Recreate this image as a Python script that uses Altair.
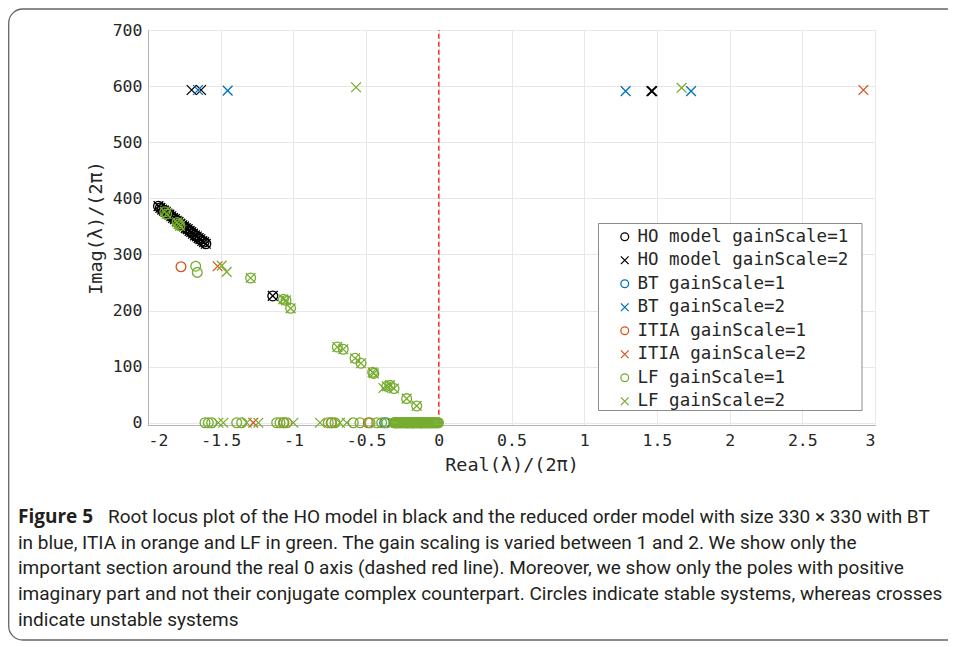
import altair as alt
import pandas as pd

# ---------------- data ----------------
SERIES = ["HO model gainScale=1", "HO model gainScale=2",
          "BT gainScale=1", "BT gainScale=2",
          "ITIA gainScale=1", "ITIA gainScale=2",
          "LF gainScale=1", "LF gainScale=2"]
COLORS = ["#000000", "#000000", "#0072BD", "#0072BD",
          "#D95319", "#D95319", "#77AC30", "#77AC30"]
CROSS = "M-1,-1L1,1M-1,1L1,-1"
SHAPES = ["circle", CROSS, "circle", CROSS, "circle", CROSS, "circle", CROSS]

XTICKS = [-2, -1.5, -1, -0.5, 0, 0.5, 1, 1.5, 2, 2.5, 3]
YTICKS = [0, 100, 200, 300, 400, 500, 600, 700]

HO1 = [(-1.928, 386), (-1.915, 383), (-1.902, 380), (-1.890, 378), (-1.878, 376),
       (-1.866, 373), (-1.853, 371), (-1.840, 368), (-1.828, 365), (-1.815, 363),
       (-1.802, 360), (-1.790, 358), (-1.777, 355), (-1.764, 352), (-1.752, 350),
       (-1.740, 347), (-1.727, 345), (-1.714, 342), (-1.702, 340), (-1.690, 337),
       (-1.677, 334), (-1.664, 332), (-1.652, 329), (-1.640, 327), (-1.627, 324),
       (-1.614, 322), (-1.602, 319), (-1.142, 226)]
HO2 = [(-1.928, 386), (-1.915, 383), (-1.902, 380), (-1.890, 378), (-1.878, 376),
       (-1.866, 373), (-1.853, 371), (-1.840, 368), (-1.828, 365), (-1.815, 363),
       (-1.802, 360), (-1.790, 358), (-1.777, 355), (-1.764, 352), (-1.752, 350),
       (-1.740, 347), (-1.727, 345), (-1.714, 342), (-1.702, 340), (-1.690, 337),
       (-1.677, 334), (-1.664, 332), (-1.652, 329), (-1.640, 327), (-1.627, 324),
       (-1.614, 322), (-1.602, 319), (-1.142, 226),
       (-1.700, 593), (-1.635, 593), (1.462, 591), (1.468, 591)]
BT1 = [(-0.372, 0), (-0.215, 0), (-0.120, 0)]
BT2 = [(-1.656, 593), (-1.452, 592), (1.285, 591), (1.735, 591)]
ITIA1 = [(-1.773, 278), (-1.065, 0), (-0.740, 0), (-0.485, 0), (-0.300, 0), (-0.180, 0)]
ITIA2 = [(-1.521, 279), (-1.276, 0), (2.920, 593)]
LF1 = [(-1.884, 376), (-1.872, 372), (-1.800, 357), (-1.790, 354), (-1.780, 351),
       (-1.672, 279), (-1.661, 268), (-1.294, 258), (-1.069, 220), (-1.051, 218),
       (-1.019, 204), (-0.698, 135), (-0.657, 131), (-0.576, 115), (-0.535, 106),
       (-0.455, 90), (-0.447, 88), (-0.358, 65), (-0.336, 67), (-0.308, 61),
       (-0.221, 43), (-0.152, 30),
       (-1.608, 0), (-1.585, 0), (-1.562, 0), (-1.390, 0), (-1.356, 0),
       (-1.115, 0), (-1.092, 0), (-1.069, 0), (-1.046, 0),
       (-0.760, 0), (-0.737, 0), (-0.714, 0), (-0.588, 0), (-0.542, 0),
       (-0.473, 0), (-0.427, 0), (-0.393, 0), (-0.358, 0),
       (-0.310, 0), (-0.302, 0), (-0.295, 0), (-0.288, 0), (-0.281, 0), (-0.274, 0),
       (-0.267, 0), (-0.260, 0), (-0.253, 0), (-0.246, 0), (-0.239, 0), (-0.232, 0),
       (-0.225, 0), (-0.218, 0), (-0.211, 0), (-0.204, 0), (-0.197, 0), (-0.190, 0),
       (-0.183, 0), (-0.176, 0), (-0.169, 0), (-0.162, 0), (-0.155, 0), (-0.148, 0),
       (-0.141, 0), (-0.134, 0), (-0.127, 0), (-0.120, 0), (-0.113, 0), (-0.106, 0),
       (-0.099, 0), (-0.092, 0), (-0.085, 0), (-0.078, 0), (-0.071, 0), (-0.064, 0),
       (-0.057, 0), (-0.050, 0), (-0.043, 0), (-0.036, 0), (-0.029, 0), (-0.022, 0),
       (-0.015, 0), (-0.008, 0), (-0.002, 0)]
LF2 = [(-1.884, 376), (-1.872, 372), (-1.800, 357), (-1.790, 354), (-1.780, 351),
       (-1.294, 258), (-1.069, 220), (-1.051, 218), (-1.019, 204),
       (-0.698, 135), (-0.657, 131), (-0.576, 115), (-0.535, 106),
       (-0.455, 90), (-0.447, 88), (-0.358, 65), (-0.336, 67), (-0.308, 61),
       (-0.221, 43), (-0.152, 30),
       (-1.493, 280), (-1.459, 269), (-0.381, 62),
       (-0.569, 598), (1.670, 597),
       (-1.516, 0), (-1.482, 0), (-1.321, 0), (-1.241, 0), (-1.000, 0),
       (-0.817, 0), (-0.680, 0), (-0.633, 0)]

ZERO_LINE = {"x": [0], "y": [0], "y2": [700]}

CAPTION_HEAD = "Figure 5"
CAPTION = [
    "Root locus plot of the HO model in black and the reduced order model with size 330 \u00d7 330 with BT",
    "in blue, ITIA in orange and LF in green. The gain scaling is varied between 1 and 2. We show only the",
    "important section around the real 0 axis (dashed red line). Moreover, we show only the poles with positive",
    "imaginary part and not their conjugate complex counterpart. Circles indicate stable systems, whereas crosses",
    "indicate unstable systems",
]

# ---------------- build table ----------------
rows = []
for name, pts in zip(SERIES, [HO1, HO2, BT1, BT2, ITIA1, ITIA2, LF1, LF2]):
    for px, py in pts:
        rows.append({"x": px, "y": py, "series": name})
df = pd.DataFrame(rows)

MONO = "DejaVu Sans Mono"
CAP_FONT = "Roboto"
CAP_SIZE = 19

xscale = alt.Scale(domain=[-2, 3], nice=False, zero=False)
yscale = alt.Scale(domain=[-4, 700], nice=False, zero=False)
xaxis = alt.Axis(values=XTICKS, labelExpr="toString(datum.value)", title="Real(λ)/(2π)")
yaxis = alt.Axis(values=YTICKS, labelExpr="toString(datum.value)", title="Imag(λ)/(2π)")

leg = alt.Legend(orient="none", legendX=464, legendY=194, title=None)

points = alt.Chart(df).mark_point(filled=False, size=95, strokeWidth=1.3, opacity=1).encode(
    x=alt.X("x:Q", scale=xscale, axis=xaxis),
    y=alt.Y("y:Q", scale=yscale, axis=yaxis),
    color=alt.Color("series:N", scale=alt.Scale(domain=SERIES, range=COLORS), legend=leg),
    shape=alt.Shape("series:N", scale=alt.Scale(domain=SERIES, range=SHAPES), legend=leg),
)

zero = alt.Chart(pd.DataFrame(ZERO_LINE)).mark_rule(
    color="#ff0000", strokeDash=[5, 3], strokeWidth=1.2
).encode(
    x=alt.X("x:Q", scale=xscale, axis=xaxis),
    y=alt.Y("y:Q", scale=yscale, axis=yaxis),
    y2="y2:Q",
)

one = pd.DataFrame({"t": [CAPTION_HEAD]})
frame = alt.Chart(one).mark_rect(
    fill="transparent", stroke="#666666", strokeWidth=1.3, cornerRadius=14
).encode(x=alt.value(-139.3), x2=alt.value(840), y=alt.value(-21), y2=alt.value(610))

legend_box = alt.Chart(one).mark_rect(
    fill="#ffffff", stroke="#8c8c8c", strokeWidth=1
).encode(x=alt.value(450.5), x2=alt.value(714), y=alt.value(193.5), y2=alt.value(380.5))

head = alt.Chart(one).mark_text(
    align="left", baseline="alphabetic", font="Open Sans", fontSize=CAP_SIZE, fontWeight="bold",
    color="#231f20"
).encode(x=alt.value(-130), y=alt.value(493), text="t:N")

line1 = alt.Chart(pd.DataFrame({"t": [CAPTION[0]]})).mark_text(
    align="left", baseline="alphabetic", font=CAP_FONT, fontSize=CAP_SIZE, color="#231f20"
).encode(x=alt.value(-40), y=alt.value(493), text="t:N")

rest = alt.Chart(one).mark_text(
    align="left", baseline="alphabetic", font=CAP_FONT, fontSize=CAP_SIZE, color="#231f20",
    text=CAPTION[1:], lineHeight=25.7
).encode(x=alt.value(-130), y=alt.value(518.5))

chart = alt.layer(frame, zero, points, legend_box, head, line1, rest).properties(
    width=727, height=395,
    autosize=alt.AutoSizeParams(type="none"),
    padding={"left": 140, "top": 22, "right": 73, "bottom": 217},
).configure_view(
    stroke="#b4b4b4", strokeWidth=1
).configure_axis(
    labelFont=MONO, labelFontSize=16.5, labelColor="#262626",
    titleFont=MONO, titleFontSize=18.5, titleFontWeight="normal", titleColor="#262626",
    gridColor="#e8e8e8", gridWidth=1, domainColor="#b4b4b4",
    ticks=False, labelPadding=7,
).configure_axisX(titlePadding=7).configure_axisY(titlePadding=7, labelPadding=6).configure_legend(
    labelFont=MONO, labelFontSize=17.5, labelColor="#262626", labelLimit=500,
    symbolSize=60, symbolStrokeWidth=1.3, padding=4, rowPadding=4.5,
    strokeColor="transparent", symbolOffset=0, labelOffset=4,
)

chart.save("out.html", embed_options={"renderer": "svg", "actions": False})
